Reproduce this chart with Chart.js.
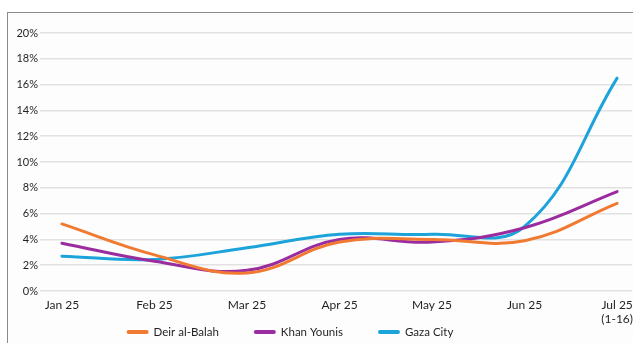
<!DOCTYPE html>
<html>
<head>
<meta charset="utf-8">
<script src="https://cdn.jsdelivr.net/npm/chart.js@4/dist/chart.umd.min.js"></script>
<style>
  html, body { margin: 0; padding: 0; background: #ffffff; }
  #wrap { position: relative; width: 633px; height: 343px; overflow: hidden; }
  #frame { position: absolute; left: 7px; top: 12px; width: 700px; height: 400px;
           border-left: 1px solid #8a8a8a; border-top: 1px solid #8a8a8a; background: #fdfdfd; }
  canvas { position: absolute; left: 0; top: 0; }
</style>
</head>
<body>
<div id="wrap">
  <div id="frame"></div>
  <canvas id="chart" width="633" height="343"></canvas>
</div>
<script>
// Monthly share (%) by governorate
const months = ['Jan 25', 'Feb 25', 'Mar 25', 'Apr 25', 'May 25', 'Jun 25', ['Jul 25', '(1-16)']];
const deirAlBalah = [5.2, 2.8, 1.4, 3.8, 4.0, 3.9, 6.8];
const khanYounis  = [3.7, 2.3, 1.6, 4.0, 3.8, 4.9, 7.7];
const gazaCity    = [2.7, 2.45, 3.35, 4.4, 4.4, 5.0, 16.5];
const yTicks = [0, 2, 4, 6, 8, 10, 12, 14, 16, 18, 20];

const FONT = 'Lato, "Open Sans", sans-serif';
const TEXT = '#231f20';

function series(label, values, color) {
  return {
    label,
    data: values.map((v, i) => ({ x: i, y: v })),
    borderColor: color,
    backgroundColor: color,
    borderWidth: 3,
    pointRadius: 0,
    tension: 0.4,
    borderCapStyle: 'round'
  };
}

// Legend drawn as short thick strokes followed by the series name
const lineLegend = {
  id: 'lineLegend',
  afterDraw(chart, args, opts) {
    const ctx = chart.ctx;
    ctx.save();
    ctx.font = opts.fontSize + 'px ' + FONT;
    ctx.textBaseline = 'middle';
    const items = chart.data.datasets.map(d => ({
      text: d.label, color: d.borderColor, w: ctx.measureText(d.label).width
    }));
    const total = items.reduce((s, it) => s + opts.lineLen + opts.gap + it.w, 0)
                + opts.spacing * (items.length - 1);
    let x = opts.centerX - total / 2;
    const y = opts.y;
    items.forEach(it => {
      ctx.strokeStyle = it.color;
      ctx.lineWidth = 4;
      ctx.lineCap = 'round';
      ctx.beginPath();
      ctx.moveTo(x + 2, y);
      ctx.lineTo(x + opts.lineLen - 2, y);
      ctx.stroke();
      x += opts.lineLen + opts.gap;
      ctx.fillStyle = TEXT;
      ctx.fillText(it.text, x, y);
      x += it.w + opts.spacing;
    });
    ctx.restore();
  }
};

new Chart(document.getElementById('chart'), {
  type: 'line',
  data: {
    datasets: [
      series('Deir al-Balah', deirAlBalah, '#f07a32'),
      series('Khan Younis', khanYounis, '#9b2c9f'),
      series('Gaza City', gazaCity, '#1ba3da')
    ]
  },
  options: {
    responsive: false,
    animation: false,
    layout: { padding: { top: 33, right: 0, bottom: 14, left: 0 } },
    plugins: {
      legend: { display: false },
      tooltip: { enabled: false },
      lineLegend: { centerX: 290, y: 332, lineLen: 22, gap: 5, spacing: 35, fontSize: 11.5 }
    },
    scales: {
      x: {
        type: 'linear',
        min: -0.237,
        max: 6.16,
        afterBuildTicks(scale) { scale.ticks = months.map((_, i) => ({ value: i })); },
        afterFit(scale) { scale.height = 38; },
        ticks: {
          autoSkip: false,
          maxRotation: 0,
          padding: 0,
          color: TEXT,
          font: { family: FONT, size: 12, lineHeight: 1.1 },
          callback: (v) => months[v]
        },
        grid: { display: false },
        border: { display: false }
      },
      y: {
        min: 0,
        max: 20,
        afterBuildTicks(scale) { scale.ticks = yTicks.map(v => ({ value: v })); },
        afterFit(scale) { scale.width = 40; },
        ticks: {
          padding: 2,
          color: TEXT,
          font: { family: FONT, size: 11 },
          callback: (v) => v + '%'
        },
        grid: { color: '#e1e1e1', lineWidth: 1.5, drawTicks: false },
        border: { display: false }
      }
    }
  },
  plugins: [lineLegend]
});
</script>
</body>
</html>
